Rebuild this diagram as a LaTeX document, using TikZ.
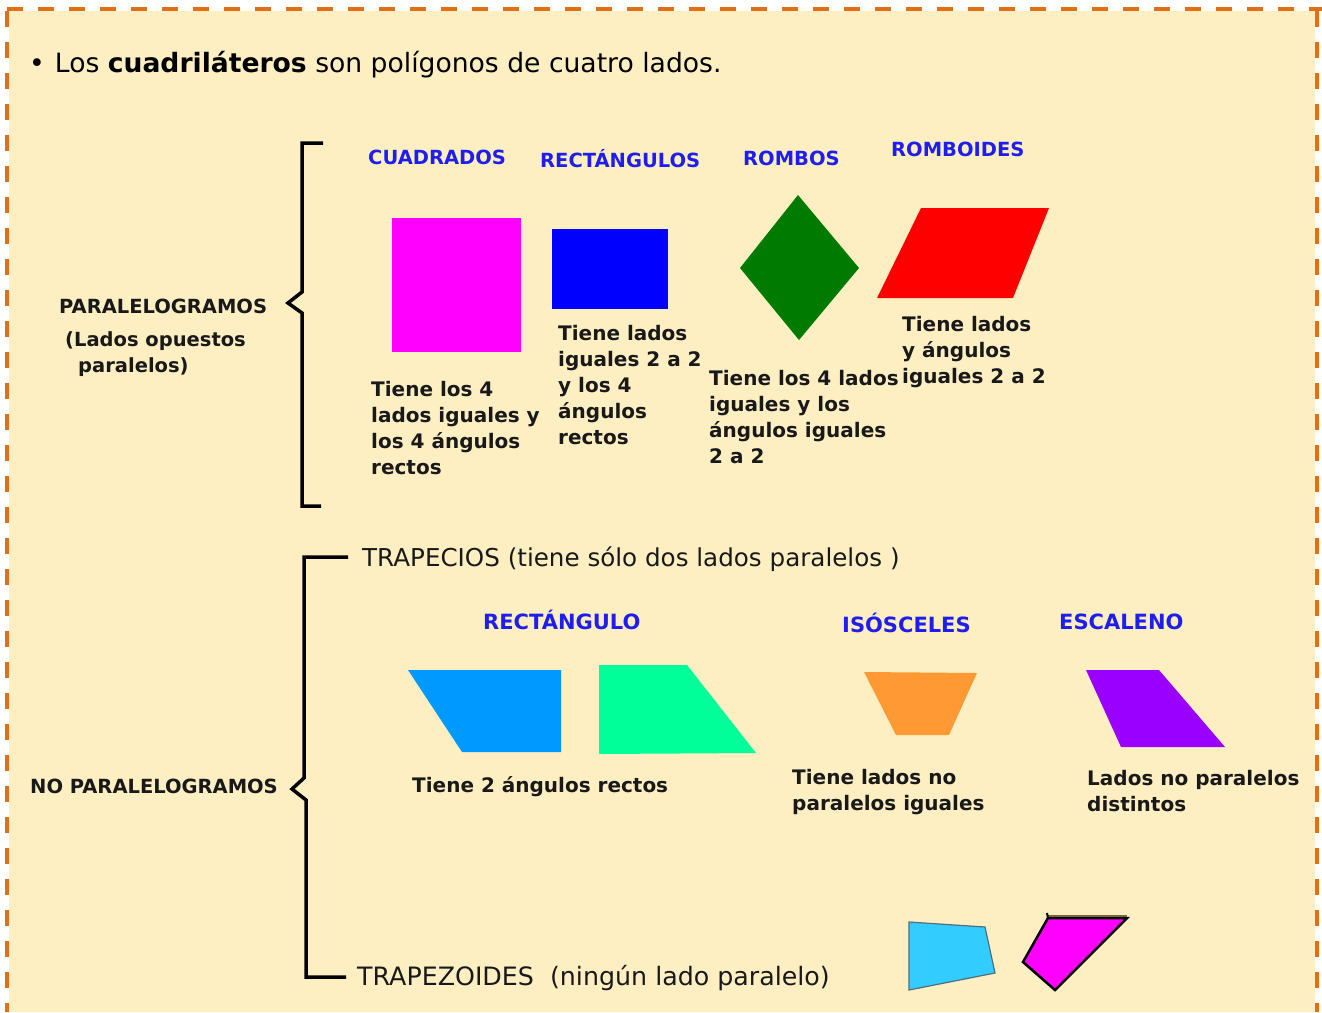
\documentclass[tikz,border=0pt]{standalone}
\usepackage{fontspec}
\setmainfont{DejaVu Sans}
\definecolor{cream}{RGB}{254,239,195}
\definecolor{borderorange}{RGB}{226,112,18}
\definecolor{lblue}{RGB}{30,30,240}
\definecolor{ink}{RGB}{25,25,25}
\definecolor{sqmag}{RGB}{255,0,255}
\definecolor{rectblue}{RGB}{0,0,255}
\definecolor{rombgreen}{RGB}{0,122,0}
\definecolor{romred}{RGB}{255,0,0}
\definecolor{trapblue}{RGB}{0,153,255}
\definecolor{trapgreen}{RGB}{0,255,153}
\definecolor{traporange}{RGB}{255,153,51}
\definecolor{trappurple}{RGB}{153,0,255}
\definecolor{tzcyan}{RGB}{51,204,255}
\definecolor{tzedge}{RGB}{80,110,130}
\definecolor{tzbrown}{RGB}{120,100,60}
\newcommand\firstline{\rule{0pt}{18pt}}
\tikzset{
  bodytext/.style={font=\fontsize{20}{26}\selectfont\bfseries, text=ink, inner sep=0pt, align=left, anchor=north west},
  bluelbl/.style={font=\fontsize{19.5}{24}\selectfont\bfseries, text=lblue, inner sep=0pt, anchor=base west},
  bluelblbig/.style={font=\fontsize{21}{25}\selectfont\bfseries, text=lblue, inner sep=0pt, anchor=base west},
  sidelbl/.style={font=\fontsize{19.5}{26}\selectfont\bfseries, text=ink, inner sep=0pt, anchor=base west},
  plainlbl/.style={font=\fontsize{24.6}{28}\selectfont, text=ink, inner sep=0pt, anchor=base west},
  bracket/.style={line width=3.5pt, black, line join=miter},
  dashedborder/.style={borderorange, line width=4pt, dash pattern=on 16pt off 15pt},
}
\begin{document}
\begin{tikzpicture}[x=1pt,y=-1pt]
\useasboundingbox (0,0) rectangle (1322,1012);
\fill[white] (0,0) rectangle (1322,1012);
\fill[cream] (9,11) rectangle (1315,1012);
\draw[dashedborder] (7,9) -- (1322,9);
\draw[dashedborder] (7,11) -- (7,1012);
\draw[dashedborder] (1317,11) -- (1317,1012);

% title
\node[font=\fontsize{26.6}{30}\selectfont, text=black, inner sep=0pt, anchor=base west] (title) at (29,72)
  {•\hspace{10pt}Los \textbf{cuadriláteros} son polígonos de cuatro lados.};

% paralelogramos brace
\draw[bracket] (323,143) -- (302,143) -- (302,292) -- (288,303) -- (302,313) -- (302,506) -- (321,506);
\node[sidelbl] (par1) at (59,313.1) {PARALELOGRAMOS};
\node[sidelbl] (par2) at (65,346.1) {(Lados opuestos};
\node[sidelbl] (par3) at (78,372.1) {paralelos)};

% labels
\node[bluelbl] (lcuad) at (368,164.1) {CUADRADOS};
\node[bluelbl] (lrect) at (540,167.1) {RECTÁNGULOS};
\node[bluelbl] (lromb) at (743,165.1) {ROMBOS};
\node[bluelbl] (lrboi) at (891,156.1) {ROMBOIDES};

% shapes
\fill[sqmag] (392,218) rectangle (521,352);
\fill[rectblue] (552,229) rectangle (668,309);
\fill[rombgreen] (798,195) -- (859,268) -- (799,340) -- (740,268) -- cycle;
\fill[romred] (921,208) -- (1049,208) -- (1013,298) -- (877,298) -- cycle;

% descriptions
\node[bodytext] (tcuad) at (371,378.3) {\firstline Tiene los 4\\lados iguales y\\los 4 ángulos\\rectos};
\node[bodytext] (trect) at (558,322.3) {\firstline Tiene lados\\iguales 2 a 2\\y los 4\\ángulos\\rectos};
\node[bodytext] (tromb) at (709,367.3) {\firstline Tiene los 4 lados\\iguales y los\\ángulos iguales\\2 a 2};
\node[bodytext] (trboi) at (902,313.3) {\firstline Tiene lados\\y ángulos\\iguales 2 a 2};

% no paralelogramos brace
\draw[bracket] (348,557) -- (304,557) -- (304,778) -- (292,789) -- (306,800) -- (306,977) -- (346,977);
\node[sidelbl] (nopar) at (30,793.1) {NO PARALELOGRAMOS};
\node[plainlbl] (trapecios) at (362,566.9) {TRAPECIOS (tiene sólo dos lados paralelos )};
\node[bluelblbig] (lrecto) at (483,629.7) {RECTÁNGULO};
\node[bluelblbig] (liso) at (842,632.7) {ISÓSCELES};
\node[bluelblbig] (lesc) at (1059,629.7) {ESCALENO};

\fill[trapblue] (408,670) -- (561,670) -- (561,752) -- (462,752) -- cycle;
\fill[trapgreen] (599,665) -- (687,665) -- (756,753) -- (599,754) -- cycle;
\fill[traporange] (864,672) -- (977,673) -- (949,735) -- (896,735) -- cycle;
\fill[trappurple] (1086,670) -- (1159,670) -- (1225,747) -- (1121,747) -- cycle;

\node[font=\fontsize{20}{26}\selectfont\bfseries, text=ink, inner sep=0pt, anchor=base west] (trecto) at (412,792.3) {Tiene 2 ángulos rectos};
\node[bodytext] (tiso) at (792,766.3) {\firstline Tiene lados no\\paralelos iguales};
\node[bodytext] (tesc) at (1087,767.3) {\firstline Lados no paralelos\\distintos};

% trapezoides
\node[font=\fontsize{25.3}{28}\selectfont, text=ink, inner sep=0pt, anchor=base west] (trapezoides) at (357,985) {TRAPEZOIDES\ \ (ningún lado paralelo)};
\filldraw[fill=tzcyan, draw=tzedge, line width=1.2pt] (909,922) -- (985,927) -- (995,973) -- (909,990) -- cycle;
\filldraw[fill=sqmag, draw=black, line width=2.5pt, line join=miter] (1048,918) -- (1127,918) -- (1055,990) -- (1023,962) -- cycle;
\draw[tzbrown, line width=2pt] (1048,915.5) -- (1127,915.5);
\draw[black, line width=2pt] (1048,918) -- (1047,913);
\end{tikzpicture}
\end{document}
